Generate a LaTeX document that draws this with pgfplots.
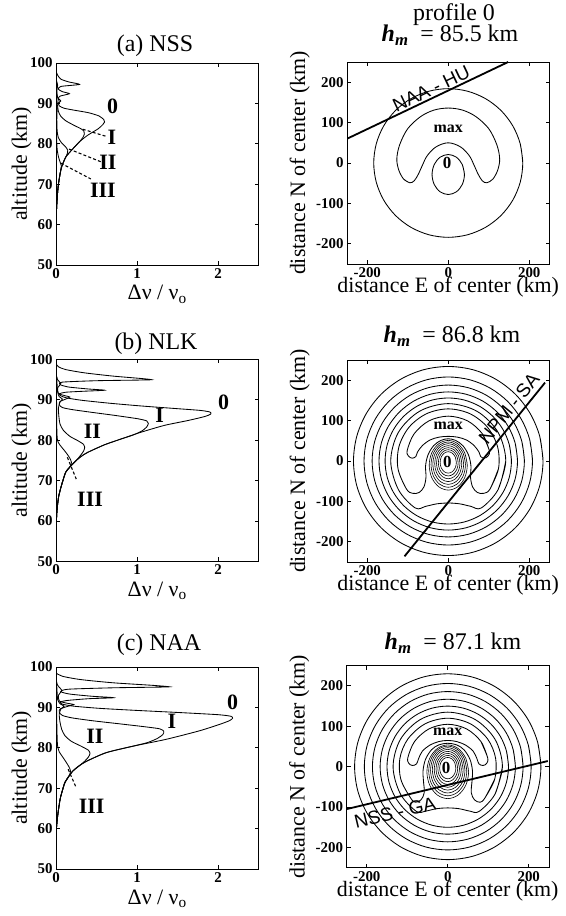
\documentclass[border=0pt]{standalone}
\usepackage{fontspec}
\setmainfont{Liberation Serif}
\newfontfamily\sansf{Liberation Sans}
\usepackage{pgfplots}
\pgfplotsset{compat=1.18}
\newcommand\hm{\textbf{\textit{h}}\textsubscript{\textbf{\textit{m}}}}
\pgfplotsset{
  mybase/.style={width=202.5bp, height=202bp, scale only axis, anchor=south west,
    tick align=inside, axis line style={line width=0.9bp},
    major tick style={line width=0.9bp, black}, major tick length=4bp,
    tick label style={font=\fontsize{15}{15}\selectfont\bfseries},
    /pgf/number format/assume math mode=true,
    label style={font=\fontsize{22}{24}\selectfont}},
  leftax/.style={mybase, xmin=0, xmax=2.5, ymin=50, ymax=100, xtick={0,1,2},
    ytick={50,60,70,80,90,100},
    xlabel={Δν / ν\textsubscript{o}}, ylabel={altitude (km)},
    xlabel style={at={([yshift=-35bp]axis description cs:0.5,0)}, anchor=base},
    ylabel style={at={([xshift=-29bp]axis description cs:0,0.5)}, anchor=base}},
  rightax/.style={mybase, xmin=-250, xmax=250, ymin=-250, ymax=250,
    xtick={-200,0,200}, ytick={-200,-100,0,100,200},
    xlabel={distance E of center (km)}, ylabel={distance N of center (km)},
    xlabel style={at={([yshift=-29bp]axis description cs:0.5,0)}, anchor=base},
    ylabel style={at={([xshift=-42bp]axis description cs:0,0.5)}, anchor=base}},
  cur/.style={black, line width=0.85bp, smooth, tension=0.4, mark=none},
  lead/.style={black, line width=1.1bp, dash pattern=on 3bp off 2.2bp, mark=none},
  ctr/.style={black, line width=0.85bp, smooth, tension=0.55, mark=none},
  ov/.style={black, line width=0.6bp, smooth, tension=0.55, mark=none},
  stn/.style={black, line width=1.8bp, mark=none},
}
\tikzset{
  lbl/.style={font=\fontsize{22}{22}\selectfont\bfseries},
  mx/.style={font=\fontsize{16}{16}\selectfont\bfseries},
  zr/.style={font=\fontsize{17}{17}\selectfont\bfseries},
  sl/.style={font=\sansf\fontsize{19}{19}\selectfont},
  ttl/.style={anchor=base, font=\fontsize{24}{24}\selectfont},
}
\begin{document}
\begin{tikzpicture}
% ===================== (a) left =====================
\begin{axis}[leftax, at={(56bp,651bp)}]
\addplot[cur] coordinates {(0,58) (0.003,62) (0.01,65) (0.02,68) (0.03,70) (0.05,72.5) (0.07,74.3) (0.12,76.7) (0.21,78.8) (0.29,80.5) (0.39,82.1) (0.52,83.7) (0.58,84.8) (0.60,85.4) (0.59,86.0) (0.53,86.9) (0.40,87.7) (0.23,88.3) (0.10,88.8) (0.04,89.4) (0.03,90.0) (0.06,90.6) (0.03,91.2) (0.05,91.8) (0.165,92.4) (0.08,92.9) (0.03,93.5) (0.06,94.2) (0.29,94.7) (0.16,95.3) (0.06,96.0) (0.02,97.0) (0,98)};
\addplot[cur] coordinates {(0,58) (0.003,62) (0.01,65) (0.02,68) (0.03,70) (0.05,72.5) (0.07,74.3) (0.12,76.7) (0.21,78.8) (0.29,80.5) (0.33,81.5) (0.35,82.4) (0.345,83.1) (0.31,83.7) (0.22,84.6) (0.12,85.7) (0.06,86.8) (0.03,88) (0.02,89.5) (0.04,90.5) (0.02,91.5) (0.01,93) (0.02,94.5) (0,96)};
\addplot[cur] coordinates {(0,58) (0.003,62) (0.01,65) (0.02,68) (0.03,70) (0.05,72.5) (0.07,74.3) (0.12,76.7) (0.14,77.6) (0.145,78.4) (0.12,79.2) (0.07,80.2) (0.03,81.5) (0.015,83) (0.01,86) (0.015,89) (0.01,92) (0,95)};
\addplot[cur] coordinates {(0,58) (0.003,62) (0.01,65) (0.02,68) (0.03,70) (0.05,72.5) (0.06,73.6) (0.065,74.6) (0.05,75.5) (0.03,76.8) (0.015,78.5) (0.008,81) (0.005,85) (0,90)};
\addplot[lead] coordinates {(0.33,83.6) (0.61,81.9)};
\addplot[lead] coordinates {(0.16,78.7) (0.56,75.5)};
\addplot[lead] coordinates {(0.06,75.2) (0.43,71.3)};
\node[lbl] at (axis cs:0.70,89.3) {0};
\node[lbl] at (axis cs:0.69,81.7) {I};
\node[lbl] at (axis cs:0.64,75.4) {II};
\node[lbl] at (axis cs:0.58,68.6) {III};
\end{axis}
% ===================== (a) right =====================
\begin{axis}[rightax, at={(347bp,652bp)}]
\addplot[ctr] coordinates {(184,0) (177.7,47.6) (159.3,92) (130.1,130.1) (92,159.3) (47.6,177.7) (0,184) (-47.6,177.7) (-92,159.3) (-130.1,130.1) (-159.3,92) (-177.7,47.6) (-184,0) (-177.7,-47.6) (-159.3,-92) (-130.1,-130.1) (-92,-159.3) (-47.6,-177.7) (0,-184) (47.6,-177.7) (92,-159.3) (130.1,-130.1) (159.3,-92) (177.7,-47.6) (184,0) (177.7,47.6)};
\addplot[ctr] coordinates {(-95,-49) (-110,-40) (-122,-18) (-127,10) (-120,45) (-100,85) (-68,115) (-35,131) (0,136) (35,131) (68,115) (100,85) (120,45) (127,10) (122,-18) (110,-40) (95,-49) (84,-44) (74,-28) (64,-6) (52,18) (30,40) (0,50) (-30,40) (-52,18) (-64,-6) (-74,-28) (-84,-44) (-95,-49) (-110,-40)};
\addplot[ctr] coordinates {(40,-28.5) (34.6,-3.75) (20,14.4) (0,21) (-20,14.4) (-34.6,-3.75) (-40,-28.5) (-34.6,-53.25) (-20,-71.4) (0,-78) (20,-71.4) (34.6,-53.25) (40,-28.5) (34.6,-3.75)};
\addplot[stn] coordinates {(-250,60) (148,250)};
\node[sl, rotate=25.5] at (axis cs:-42,184) {NAA - HU};
\node[mx] at (axis cs:0,85) {max};
\node[zr] at (axis cs:-3,0) {0};
\end{axis}
% ===================== (b) left =====================
\begin{axis}[leftax, at={(56bp,354.5bp)}]
\addplot[cur] coordinates {(0,58) (0.005,60) (0.01,62) (0.02,64.2) (0.035,66.3) (0.06,68.3) (0.085,70) (0.12,72.1) (0.18,73.6) (0.25,75) (0.31,76) (0.39,77) (0.60,78.9) (0.80,80.3) (1.05,82.0) (1.34,83.7) (1.63,84.9) (1.84,85.9) (1.91,86.5) (1.90,87.0) (1.78,87.4) (1.45,87.9) (1.05,88.5) (0.65,89.2) (0.32,89.9) (0.13,90.5) (0.06,91.0) (0.04,91.5) (0.12,91.9) (0.35,92.15) (0.6,92.4) (0.4,92.7) (0.15,93.2) (0.05,93.8) (0.08,94.4) (0.5,94.75) (1.0,94.9) (1.18,95.0) (1.05,95.3) (0.7,95.9) (0.35,96.7) (0.12,97.5) (0.03,98.2) (0,99)};
\addplot[cur] coordinates {(0,58) (0.005,60) (0.01,62) (0.02,64.2) (0.035,66.3) (0.06,68.3) (0.085,70) (0.12,72.1) (0.18,73.6) (0.25,75) (0.31,76) (0.39,77) (0.60,78.9) (0.80,80.3) (0.95,81.3) (1.06,82.3) (1.12,83.3) (1.14,84.2) (1.12,84.8) (1.02,85.3) (0.75,86.1) (0.45,86.9) (0.2,87.6) (0.08,88.1) (0.04,88.8) (0.05,89.6) (0.12,90.2) (0.17,90.7) (0.1,91.1) (0.03,91.6) (0.02,93) (0.06,94) (0.02,95) (0,96.5)};
\addplot[cur] coordinates {(0,58) (0.005,60) (0.01,62) (0.02,64.2) (0.035,66.3) (0.06,68.3) (0.085,70) (0.12,72.1) (0.18,73.6) (0.25,75) (0.30,76.2) (0.34,77.3) (0.355,78.3) (0.34,79.0) (0.27,79.9) (0.17,81.0) (0.09,82.5) (0.05,84) (0.035,86) (0.03,88) (0.05,89.5) (0.08,90.2) (0.04,90.8) (0.02,92) (0.01,95) (0,97)};
\addplot[cur] coordinates {(0,58) (0.005,60) (0.01,62) (0.02,64.2) (0.035,66.3) (0.06,68.3) (0.085,70) (0.12,72.1) (0.18,73.6) (0.19,74.6) (0.17,75.6) (0.13,76.8) (0.09,77.8) (0.05,78.8) (0.025,79.6) (0.015,80.5) (0.01,83) (0.008,88) (0.005,92) (0,96)};
\addplot[lead] coordinates {(0.14,75.8) (0.25,70.4)};
\node[lbl] at (axis cs:2.07,89.4) {0};
\node[lbl] at (axis cs:1.28,86.1) {I};
\node[lbl] at (axis cs:0.45,82.3) {II};
\node[lbl] at (axis cs:0.42,65.5) {III};
\end{axis}
% ===================== (b) right =====================
\begin{axis}[rightax, at={(347bp,354bp)}]
\addplot[ctr] coordinates {(234,0) (226,60.6) (202.6,117) (165.5,165.5) (117,202.6) (60.6,226) (0,234) (-60.6,226) (-117,202.6) (-165.5,165.5) (-202.6,117) (-226,60.6) (-234,0) (-226,-60.6) (-202.6,-117) (-165.5,-165.5) (-117,-202.6) (-60.6,-226) (0,-234) (60.6,-226) (117,-202.6) (165.5,-165.5) (202.6,-117) (226,-60.6) (234,0) (226,60.6)};
\addplot[ctr] coordinates {(208,0) (200.9,53.8) (180.1,104) (147.1,147.1) (104,180.1) (53.8,200.9) (0,208) (-53.8,200.9) (-104,180.1) (-147.1,147.1) (-180.1,104) (-200.9,53.8) (-208,0) (-200.9,-53.8) (-180.1,-104) (-147.1,-147.1) (-104,-180.1) (-53.8,-200.9) (0,-208) (53.8,-200.9) (104,-180.1) (147.1,-147.1) (180.1,-104) (200.9,-53.8) (208,0) (200.9,53.8)};
\addplot[ctr] coordinates {(188,0) (181.6,48.7) (162.8,94) (132.9,132.9) (94,162.8) (48.7,181.6) (0,188) (-48.7,181.6) (-94,162.8) (-132.9,132.9) (-162.8,94) (-181.6,48.7) (-188,0) (-181.6,-48.7) (-162.8,-94) (-132.9,-132.9) (-94,-162.8) (-48.7,-181.6) (0,-188) (48.7,-181.6) (94,-162.8) (132.9,-132.9) (162.8,-94) (181.6,-48.7) (188,0) (181.6,48.7)};
\addplot[ctr] coordinates {(171,0) (165.2,44.3) (148.1,85.5) (120.9,120.9) (85.5,148.1) (44.3,165.2) (0,171) (-44.3,165.2) (-85.5,148.1) (-120.9,120.9) (-148.1,85.5) (-165.2,44.3) (-171,0) (-165.2,-44.3) (-148.1,-85.5) (-120.9,-120.9) (-85.5,-148.1) (-44.3,-165.2) (0,-171) (44.3,-165.2) (85.5,-148.1) (120.9,-120.9) (148.1,-85.5) (165.2,-44.3) (171,0) (165.2,44.3)};
\addplot[ctr] coordinates {(156,0) (150.7,40.4) (135.1,78) (110.3,110.3) (78,135.1) (40.4,150.7) (0,156) (-40.4,150.7) (-78,135.1) (-110.3,110.3) (-135.1,78) (-150.7,40.4) (-156,0) (-150.7,-40.4) (-135.1,-78) (-110.3,-110.3) (-78,-135.1) (-40.4,-150.7) (0,-156) (40.4,-150.7) (78,-135.1) (110.3,-110.3) (135.1,-78) (150.7,-40.4) (156,0) (150.7,40.4)};
\addplot[ctr] coordinates {(123,-71) (142,0) (123,71) (71,123) (0,142) (-71,123) (-123,71) (-142,0) (-123,-71) (-81.4,-116.3) (-55,-112) (-28,-106) (0,-104) (28,-106) (55,-112) (81.4,-116.3) (123,-71) (142,0)};
\addplot[ctr] coordinates {(103.2,-69.3) (124.1,-18.9) (121.7,35.6) (96.5,84) (53.2,117.2) (0,129) (-53.2,117.2) (-96.5,84) (-121.7,35.6) (-124.1,-18.9) (-103.2,-69.3) (-88,-80) (-72,-78) (-60,-64) (-55,-40) (-56,-12) (-50,15) (-36,38) (-18,51) (0,55) (18,51) (36,38) (50,15) (56,-12) (55,-40) (60,-64) (72,-78) (88,-80) (103.2,-69.3) (124.1,-18.9)};
\addplot[ctr] coordinates {(101.4,25.9) (84.4,67.1) (47.6,99.4) (0,111) (-47.6,99.4) (-84.4,67.1) (-101.4,25.9) (-98,12) (-89,7) (-80,11) (-76,22) (-64,38) (-45,52) (-23,59) (0,61) (23,59) (45,52) (64,38) (76,22) (80,11) (89,7) (98,12) (101.4,25.9) (84.4,67.1)};
\addplot[ov] coordinates {(20,-3.5) (17.32,9.75) (10,19.45) (0,23) (-10,19.45) (-17.32,9.75) (-20,-3.5) (-17.32,-16.75) (-10,-26.45) (0,-30) (10,-26.45) (17.32,-16.75) (20,-3.5) (17.32,9.75)};
\addplot[ov] coordinates {(24.5,-4.5) (21.22,11.75) (12.25,23.65) (0,28) (-12.25,23.65) (-21.22,11.75) (-24.5,-4.5) (-21.22,-20.75) (-12.25,-32.65) (0,-37) (12.25,-32.65) (21.22,-20.75) (24.5,-4.5) (21.22,11.75)};
\addplot[ov] coordinates {(29,-5.5) (25.11,13.75) (14.5,27.84) (0,33) (-14.5,27.84) (-25.11,13.75) (-29,-5.5) (-25.11,-24.75) (-14.5,-38.84) (0,-44) (14.5,-38.84) (25.11,-24.75) (29,-5.5) (25.11,13.75)};
\addplot[ov] coordinates {(33.5,-6.5) (29.01,15.75) (16.75,32.04) (0,38) (-16.75,32.04) (-29.01,15.75) (-33.5,-6.5) (-29.01,-28.75) (-16.75,-45.04) (0,-51) (16.75,-45.04) (29.01,-28.75) (33.5,-6.5) (29.01,15.75)};
\addplot[ov] coordinates {(38,-7.5) (32.91,17.75) (19,36.23) (0,43) (-19,36.23) (-32.91,17.75) (-38,-7.5) (-32.91,-32.75) (-19,-51.23) (0,-58) (19,-51.23) (32.91,-32.75) (38,-7.5) (32.91,17.75)};
\addplot[ov] coordinates {(42.5,-9) (36.81,19) (21.25,39.5) (0,47) (-21.25,39.5) (-36.81,19) (-42.5,-9) (-36.81,-37) (-21.25,-57.5) (0,-65) (21.25,-57.5) (36.81,-37) (42.5,-9) (36.81,19)};
\addplot[ov] coordinates {(47,-10.5) (40.7,20.25) (23.5,42.76) (0,51) (-23.5,42.76) (-40.7,20.25) (-47,-10.5) (-40.7,-41.25) (-23.5,-63.76) (0,-72) (23.5,-63.76) (40.7,-41.25) (47,-10.5) (40.7,20.25)};
\addplot[stn] coordinates {(-108,-236) (239,194)};
\node[sl, rotate=51.1] at (axis cs:150,130) {NPM - SA};
\node[mx] at (axis cs:0,87) {max};
\node[zr] at (axis cs:-2,-2) {0};
\end{axis}
% ===================== (c) left =====================
\begin{axis}[leftax, at={(56bp,47bp)}]
\addplot[cur] coordinates {(0,58) (0.005,60) (0.02,63.1) (0.05,67.2) (0.08,69.5) (0.11,71.4) (0.16,73) (0.21,74.3) (0.29,75.6) (0.38,76.7) (0.62,78.8) (0.95,80.4) (1.36,82.1) (1.77,84.2) (2.02,85.8) (2.14,86.7) (2.18,87.3) (2.16,87.8) (2.0,88.2) (1.5,88.75) (1.0,89.25) (0.55,89.75) (0.22,90.3) (0.08,90.8) (0.05,91.3) (0.13,91.7) (0.4,92.15) (0.71,92.4) (0.45,92.75) (0.17,93.3) (0.06,93.9) (0.15,94.5) (0.7,94.85) (1.2,95.0) (1.40,95.1) (1.2,95.45) (0.7,96.1) (0.3,96.9) (0.08,97.7) (0,98.5)};
\addplot[cur] coordinates {(0,58) (0.005,60) (0.02,63.1) (0.05,67.2) (0.08,69.5) (0.11,71.4) (0.16,73) (0.21,74.3) (0.29,75.6) (0.38,76.7) (0.62,78.8) (0.95,80.4) (1.13,81.3) (1.25,82.3) (1.32,83.3) (1.33,84.1) (1.28,84.7) (1.1,85.2) (0.8,85.9) (0.45,86.7) (0.2,87.4) (0.08,88.0) (0.04,88.8) (0.05,89.6) (0.15,90.3) (0.22,90.7) (0.12,91.1) (0.04,91.6) (0.03,93) (0.07,94.2) (0.02,95.5) (0,97)};
\addplot[cur] coordinates {(0,58) (0.005,60) (0.02,63.1) (0.05,67.2) (0.08,69.5) (0.11,71.4) (0.16,73) (0.21,74.3) (0.29,75.6) (0.35,76.6) (0.40,77.7) (0.42,78.6) (0.40,79.4) (0.31,80.4) (0.19,81.6) (0.11,83) (0.07,84.6) (0.05,86.3) (0.04,88.3) (0.06,89.6) (0.1,90.3) (0.05,90.9) (0.02,92) (0.01,95) (0,97)};
\addplot[cur] coordinates {(0,58) (0.005,60) (0.02,63.1) (0.05,67.2) (0.08,69.5) (0.11,71.4) (0.16,73) (0.18,74.2) (0.16,75.3) (0.12,76.6) (0.08,77.8) (0.04,79.0) (0.02,80.4) (0.015,82) (0.01,86) (0.005,92) (0,96)};
\addplot[lead] coordinates {(0.15,74.7) (0.25,70.1)};
\node[lbl] at (axis cs:2.18,91.2) {0};
\node[lbl] at (axis cs:1.43,86.6) {I};
\node[lbl] at (axis cs:0.48,82.9) {II};
\node[lbl] at (axis cs:0.44,65.6) {III};
\end{axis}
% ===================== (c) right =====================
\begin{axis}[rightax, at={(346.5bp,48.3bp)}]
\addplot[ctr] coordinates {(230,0) (222.2,59.5) (199.2,115) (162.6,162.6) (115,199.2) (59.5,222.2) (0,230) (-59.5,222.2) (-115,199.2) (-162.6,162.6) (-199.2,115) (-222.2,59.5) (-230,0) (-222.2,-59.5) (-199.2,-115) (-162.6,-162.6) (-115,-199.2) (-59.5,-222.2) (0,-230) (59.5,-222.2) (115,-199.2) (162.6,-162.6) (199.2,-115) (222.2,-59.5) (230,0) (222.2,59.5)};
\addplot[ctr] coordinates {(206,0) (199,53.3) (178.4,103) (145.7,145.7) (103,178.4) (53.3,199) (0,206) (-53.3,199) (-103,178.4) (-145.7,145.7) (-178.4,103) (-199,53.3) (-206,0) (-199,-53.3) (-178.4,-103) (-145.7,-145.7) (-103,-178.4) (-53.3,-199) (0,-206) (53.3,-199) (103,-178.4) (145.7,-145.7) (178.4,-103) (199,-53.3) (206,0) (199,53.3)};
\addplot[ctr] coordinates {(186,0) (179.7,48.1) (161.1,93) (131.5,131.5) (93,161.1) (48.1,179.7) (0,186) (-48.1,179.7) (-93,161.1) (-131.5,131.5) (-161.1,93) (-179.7,48.1) (-186,0) (-179.7,-48.1) (-161.1,-93) (-131.5,-131.5) (-93,-161.1) (-48.1,-179.7) (0,-186) (48.1,-179.7) (93,-161.1) (131.5,-131.5) (161.1,-93) (179.7,-48.1) (186,0) (179.7,48.1)};
\addplot[ctr] coordinates {(167,0) (161.3,43.2) (144.6,83.5) (118.1,118.1) (83.5,144.6) (43.2,161.3) (0,167) (-43.2,161.3) (-83.5,144.6) (-118.1,118.1) (-144.6,83.5) (-161.3,43.2) (-167,0) (-161.3,-43.2) (-144.6,-83.5) (-118.1,-118.1) (-83.5,-144.6) (-43.2,-161.3) (0,-167) (43.2,-161.3) (83.5,-144.6) (118.1,-118.1) (144.6,-83.5) (161.3,-43.2) (167,0) (161.3,43.2)};
\addplot[ctr] coordinates {(150,0) (144.9,38.8) (129.9,75) (106.1,106.1) (75,129.9) (38.8,144.9) (0,150) (-38.8,144.9) (-75,129.9) (-106.1,106.1) (-129.9,75) (-144.9,38.8) (-150,0) (-144.9,-38.8) (-129.9,-75) (-106.1,-106.1) (-75,-129.9) (-38.8,-144.9) (0,-150) (38.8,-144.9) (75,-129.9) (106.1,-106.1) (129.9,-75) (144.9,-38.8) (150,0) (144.9,38.8)};
\addplot[ctr] coordinates {(116.9,-67.5) (135,0) (116.9,67.5) (67.5,116.9) (0,135) (-67.5,116.9) (-116.9,67.5) (-135,0) (-116.9,-67.5) (-77.5,-110.6) (-55,-110) (-28,-104) (0,-102) (28,-104) (55,-110) (77.5,-110.6) (116.9,-67.5) (135,0)};
\addplot[ctr] coordinates {(91.9,-77.1) (115.9,-31.1) (118.2,20.8) (98.3,68.8) (55.4,106.4) (0,120) (-55.4,106.4) (-98.3,68.8) (-118.2,20.8) (-115.9,-31.1) (-91.9,-77.1) (-80,-88) (-66,-82) (-58,-64) (-60,-35) (-61,-10) (-55,18) (-40,42) (-22,54) (0,58) (22,54) (40,42) (55,18) (61,-10) (60,-35) (58,-64) (66,-82) (80,-88) (91.9,-77.1) (115.9,-31.1)};
\addplot[ctr] coordinates {(98.5,22.4) (81.9,62.4) (46.2,93.7) (0,105) (-46.2,93.7) (-81.9,62.4) (-98.5,22.4) (-96,8) (-87,3) (-77,7) (-72,20) (-63,38) (-45,53) (-23,62) (0,65) (23,62) (45,53) (63,38) (72,20) (77,7) (87,3) (96,8) (98.5,22.4) (81.9,62.4)};
\addplot[ov] coordinates {(20,-3.5) (17.32,9.75) (10,19.45) (0,23) (-10,19.45) (-17.32,9.75) (-20,-3.5) (-17.32,-16.75) (-10,-26.45) (0,-30) (10,-26.45) (17.32,-16.75) (20,-3.5) (17.32,9.75)};
\addplot[ov] coordinates {(24.5,-4.5) (21.22,11.75) (12.25,23.65) (0,28) (-12.25,23.65) (-21.22,11.75) (-24.5,-4.5) (-21.22,-20.75) (-12.25,-32.65) (0,-37) (12.25,-32.65) (21.22,-20.75) (24.5,-4.5) (21.22,11.75)};
\addplot[ov] coordinates {(29,-5.5) (25.11,13.75) (14.5,27.84) (0,33) (-14.5,27.84) (-25.11,13.75) (-29,-5.5) (-25.11,-24.75) (-14.5,-38.84) (0,-44) (14.5,-38.84) (25.11,-24.75) (29,-5.5) (25.11,13.75)};
\addplot[ov] coordinates {(33.5,-6.5) (29.01,15.75) (16.75,32.04) (0,38) (-16.75,32.04) (-29.01,15.75) (-33.5,-6.5) (-29.01,-28.75) (-16.75,-45.04) (0,-51) (16.75,-45.04) (29.01,-28.75) (33.5,-6.5) (29.01,15.75)};
\addplot[ov] coordinates {(38,-7.5) (32.91,17.75) (19,36.23) (0,43) (-19,36.23) (-32.91,17.75) (-38,-7.5) (-32.91,-32.75) (-19,-51.23) (0,-58) (19,-51.23) (32.91,-32.75) (38,-7.5) (32.91,17.75)};
\addplot[ov] coordinates {(42.5,-9) (36.81,19) (21.25,39.5) (0,47) (-21.25,39.5) (-36.81,19) (-42.5,-9) (-36.81,-37) (-21.25,-57.5) (0,-65) (21.25,-57.5) (36.81,-37) (42.5,-9) (36.81,19)};
\addplot[ov] coordinates {(47,-10.5) (40.7,20.25) (23.5,42.76) (0,51) (-23.5,42.76) (-40.7,20.25) (-47,-10.5) (-40.7,-41.25) (-23.5,-63.76) (0,-72) (23.5,-63.76) (40.7,-41.25) (47,-10.5) (40.7,20.25)};
\addplot[ov] coordinates {(51.5,-12.5) (44.6,20.75) (25.75,45.09) (0,54) (-25.75,45.09) (-44.6,20.75) (-51.5,-12.5) (-44.6,-45.75) (-25.75,-70.09) (0,-79) (25.75,-70.09) (44.6,-45.75) (51.5,-12.5) (44.6,20.75)};
\addplot[stn] coordinates {(-250,-105) (247,14)};
\node[sl, rotate=13.4] at (axis cs:-130,-114) {NSS - GA};
\node[mx] at (axis cs:0,87) {max};
\node[zr] at (axis cs:-4,-2) {0};
\end{axis}
% ===================== titles =====================
\node[ttl] at (155bp,864.3bp) {(a) NSS};
\node[ttl] at (454bp,895.3bp) {profile 0};
\node[ttl] at (450bp,874.3bp) {\hm\enspace= 85.5 km};
\node[ttl] at (156bp,566.5bp) {(b) NLK};
\node[ttl] at (452bp,573bp) {\hm\enspace= 86.8 km};
\node[ttl] at (159bp,265.3bp) {(c) NAA};
\node[ttl] at (453bp,266.7bp) {\hm\enspace= 87.1 km};
\pgfresetboundingbox
\path[use as bounding box] (0,0) rectangle (566bp,916bp);
\end{tikzpicture}
\end{document}
